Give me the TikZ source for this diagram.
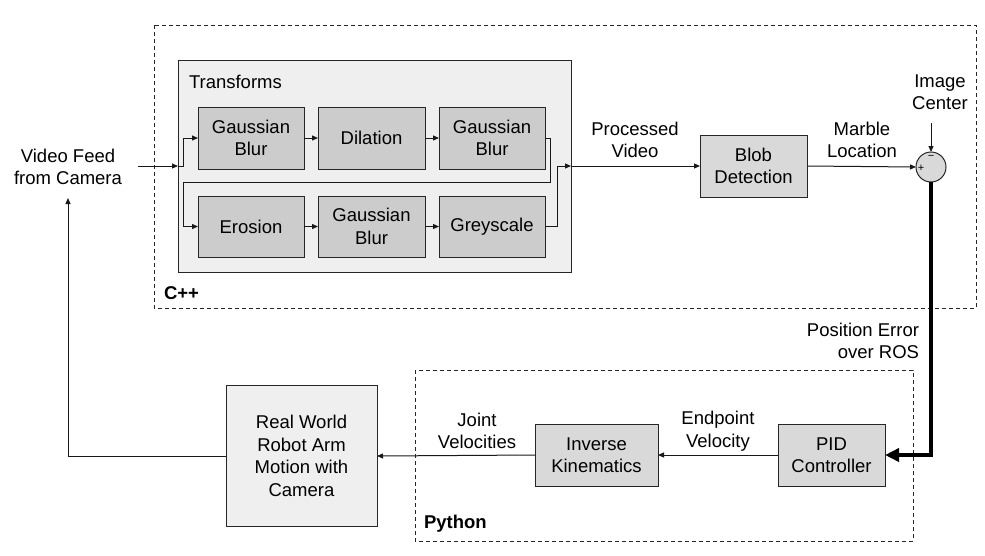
\documentclass[tikz,border=0pt]{standalone}
\usepackage{fontspec}
\setmainfont{Liberation Sans}
\usetikzlibrary{arrows.meta}
\definecolor{innerfill}{HTML}{CCCCCC}
\definecolor{midfill}{HTML}{D9D9D9}
\definecolor{lightfill}{HTML}{EFEFEF}
\begin{document}
\begin{tikzpicture}[x=1pt,y=-1pt,
  every node/.style={font=\fontsize{18.5}{22.5}\selectfont, inner sep=0pt, outer sep=0pt},
  blk/.style={draw=black!85, line width=1pt, align=center, fill=innerfill},
  midblk/.style={blk, fill=midfill},
  lbl/.style={align=center},
  arr/.style={draw=black!90, line width=1pt, -{Triangle[length=6pt,width=5pt]}},
  region/.style={draw=black!85, line width=0.8pt, dash pattern=on 4pt off 3pt},
  tag/.style={font=\fontsize{18.5}{22.5}\selectfont\bfseries, anchor=west},
  sign/.style={font=\fontsize{11}{11}\selectfont}
]
\useasboundingbox (0,0) rectangle (985,555);

% dashed regions
\draw[region] (154,25) rectangle (976,308);
\draw[region] (415,370) rectangle (913,541);
\node[tag] (cpp) at (164,293) {C++};
\node[tag] (py) at (424,524) {Python};

% transforms container
\node[draw=black!85, line width=1pt, fill=lightfill, minimum width=393pt, minimum height=212pt] (tr) at (374.5,166) {};
\node[anchor=west] (trl) at (189,82) {Transforms};

% inner blocks
\node[blk, minimum width=106pt, minimum height=62pt] (gb1) at (251,138) {Gaussian\\Blur};
\node[blk, minimum width=107pt, minimum height=62pt] (dil) at (371.5,138) {Dilation};
\node[blk, minimum width=106pt, minimum height=62pt] (gb2) at (492,138) {Gaussian\\Blur};
\node[blk, minimum width=106pt, minimum height=61pt] (ero) at (251,226.5) {Erosion};
\node[blk, minimum width=107pt, minimum height=61pt] (gb3) at (371.5,226.5) {Gaussian\\Blur};
\node[blk, minimum width=106pt, minimum height=61pt] (grey) at (492,226.5) {Greyscale};

% other blocks
\node[midblk, minimum width=107pt, minimum height=62pt] (blob) at (753.5,166) {Blob\\Detection};
\node[draw=black!85, line width=1pt, fill=midfill, circle, minimum size=30pt] (sum) at (931,167) {};
\node[sign] (plus) at (921,168) {+};
\node[sign] (minus) at (931,157.5) {−};
\node[midblk, minimum width=107pt, minimum height=62pt] (pid) at (831.5,455) {PID\\Controller};
\node[midblk, minimum width=123pt, minimum height=62pt] (ik) at (596.5,455) {Inverse\\Kinematics};
\node[blk, fill=lightfill, minimum width=151pt, minimum height=141pt] (rw) at (301.5,456) {Real World\\Robot Arm\\Motion with\\Camera};

% labels
\node[lbl] (vf) at (68,167) {Video Feed\\from Camera};
\node[lbl] (pv) at (635,140) {Processed\\Video};
\node[lbl] (ml) at (862,140) {Marble\\Location};
\node[lbl] (ic) at (940,92) {Image\\Center};
\node[align=right, anchor=east] (pe) at (919,341) {Position Error\\over ROS};
\node[lbl] (ev) at (718,431) {Endpoint\\Velocity};
\node[lbl] (jv) at (477,431) {Joint\\Velocities};

% coordinates
\coordinate (vin) at (138,166);
\coordinate (j1) at (183,166);
\coordinate (j2) at (550,138);
\coordinate (j3) at (550,182);
\coordinate (j4) at (183,182);
\coordinate (j5) at (557,226.5);
\coordinate (icin) at (931,123);
\coordinate (corner) at (931,455);
\coordinate (back) at (68,456);
\coordinate (vfin) at (68,198);

% connectors
\draw[arr] (vin) -- (tr.west);
\draw[arr] (tr.west) -- (j1) |- (gb1.west);
\draw[arr] (gb1) -- (dil);
\draw[arr] (dil) -- (gb2);
\draw[arr] (gb2.east) -- (j2) -- (j3) -- (j4) |- (ero.west);
\draw[arr] (ero) -- (gb3);
\draw[arr] (gb3) -- (grey);
\draw[arr] (grey.east) -- (j5) |- (tr.east);
\draw[arr] (tr.east) -- (blob.west);
\draw[arr] (blob.east) -- (sum.west);
\draw[arr] (icin) -- (sum.north);
\draw[line width=3.5pt, -{Triangle[length=14pt,width=13pt]}] (sum.south) -- (corner) -- (pid.east);
\draw[arr] (pid.west) -- (ik.east);
\draw[arr] (ik.west) -- (rw.east);
\draw[arr] (rw.west) -- (back) -- (vfin);
\end{tikzpicture}
\end{document}
